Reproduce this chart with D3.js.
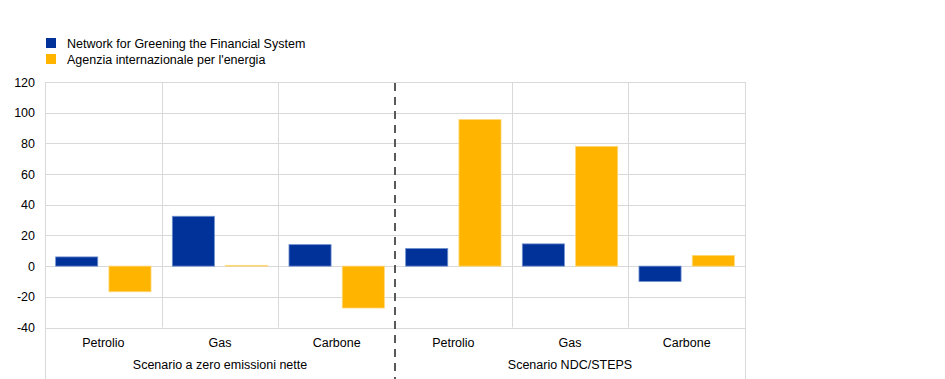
<!DOCTYPE html>
<html>
<head>
<meta charset="utf-8">
<script src="https://cdn.jsdelivr.net/npm/d3@7"></script>
<style>
  body { margin: 0; background: #fff; }
  text { font-family: Arial, "Liberation Sans", sans-serif; fill: #000; }
</style>
</head>
<body>
<svg id="chart" width="945" height="379"></svg>
<script>
// --- DATA ---
const scenarios = ["Scenario a zero emissioni nette", "Scenario NDC/STEPS"];
const fuels = ["Petrolio", "Gas", "Carbone"];
const seriesNames = ["Network for Greening the Financial System", "Agenzia internazionale per l'energia"];
const ngfsValues = [6, 32.5, 14, 11.5, 14.5, -10];
const ieaValues = [-16.7, 0.5, -27.3, 95.5, 78, 7];
const yTicks = [-40, -20, 0, 20, 40, 60, 80, 100, 120];
const colors = ["#003299", "#FFB400"];
const strokes = ["#6f8fd0", "#ffd877"];

// --- SETUP ---
const svg = d3.select("#chart");
const plotLeft = 45, plotRight = 745, plotTop = 82, plotBottom = 327.5;
const fontSize = 12.5;

const groups = [];
scenarios.forEach(s => fuels.forEach(f => groups.push(s + "|" + f)));

const x = d3.scaleBand().domain(groups).range([plotLeft, plotRight]);
const xInner = d3.scaleBand().domain([0, 1]).range([0, x.bandwidth()]).paddingInner(0.21).paddingOuter(0.2);
const y = d3.scaleLinear().domain([-40, 120]).range([plotBottom, plotTop]);

// --- GRID ---
const grid = svg.append("g");
grid.selectAll("line.h").data(yTicks).join("line")
    .attr("x1", plotLeft).attr("x2", plotRight)
    .attr("y1", d => Math.round(y(d)) + 0.5).attr("y2", d => Math.round(y(d)) + 0.5)
    .attr("stroke", "#d9d9d9").attr("stroke-width", 1);

const innerBounds = groups.slice(1).map(g => x(g)).filter((d, i) => i !== 2);
grid.selectAll("line.v").data(innerBounds).join("line")
    .attr("x1", d => Math.round(d) + 0.5).attr("x2", d => Math.round(d) + 0.5)
    .attr("y1", plotTop).attr("y2", plotBottom)
    .attr("stroke", "#d9d9d9");

grid.selectAll("line.edge").data([plotLeft, plotRight]).join("line")
    .attr("x1", d => d + 0.5).attr("x2", d => d + 0.5)
    .attr("y1", plotTop).attr("y2", 379)
    .attr("stroke", "#d9d9d9");

// --- BARS ---
const rows = groups.map((g, i) => ({ key: g, vals: [ngfsValues[i], ieaValues[i]] }));
const bars = svg.append("g").selectAll("g").data(rows).join("g")
    .attr("transform", d => `translate(${x(d.key)},0)`);

bars.selectAll("rect").data(d => d.vals.map((v, k) => ({ v, k }))).join("rect")
    .attr("x", d => xInner(d.k))
    .attr("width", xInner.bandwidth())
    .attr("y", d => y(Math.max(0, d.v)))
    .attr("height", d => Math.abs(y(d.v) - y(0)))
    .attr("fill", d => colors[d.k])
    .attr("stroke", d => strokes[d.k])
    .attr("stroke-width", 0.8);

// --- SEPARATOR ---
const sepX = x(groups[3]);
svg.append("line")
    .attr("x1", sepX).attr("x2", sepX)
    .attr("y1", plotTop + 1).attr("y2", 379)
    .attr("stroke", "#595959").attr("stroke-width", 2)
    .attr("stroke-dasharray", "8,6");

// --- AXES TEXT ---
svg.append("g").selectAll("text").data(yTicks).join("text")
    .attr("x", 35).attr("y", d => y(d) + 4.5)
    .attr("text-anchor", "end").attr("font-size", fontSize)
    .text(d => d);

svg.append("g").selectAll("text").data(groups).join("text")
    .attr("x", d => x(d) + x.bandwidth() / 2).attr("y", 346.5)
    .attr("text-anchor", "middle").attr("font-size", fontSize)
    .text(d => d.split("|")[1]);

svg.append("g").selectAll("text").data(scenarios).join("text")
    .attr("x", (d, i) => x(groups[i * 3 + 1]) + x.bandwidth() / 2).attr("y", 369)
    .attr("text-anchor", "middle").attr("font-size", fontSize)
    .text(d => d);

// --- LEGEND ---
const legend = svg.append("g").selectAll("g").data(seriesNames).join("g")
    .attr("transform", (d, i) => `translate(46,${38 + i * 16})`);
legend.append("rect").attr("width", 10).attr("height", 10).attr("fill", (d, i) => colors[i]);
legend.append("text").attr("x", 21).attr("y", 9.5).attr("font-size", fontSize).text(d => d);
</script>
</body>
</html>
